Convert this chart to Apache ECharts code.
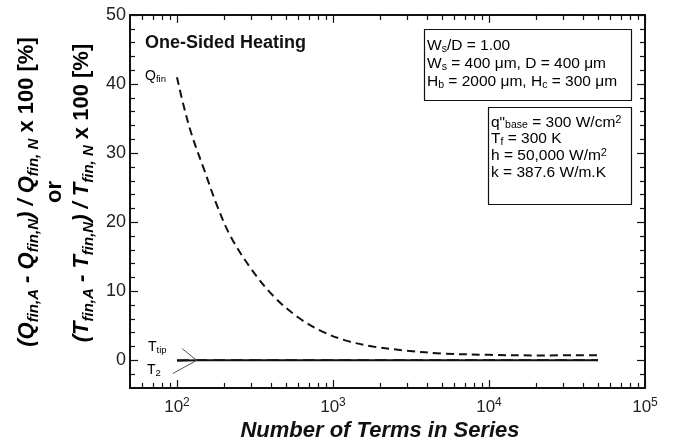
<!DOCTYPE html>
<html>
<head>
<meta charset="utf-8">
<script src="https://cdn.jsdelivr.net/npm/echarts@6/dist/echarts.min.js"></script>
<style>
html,body{margin:0;padding:0;background:#fff;}
#chart{width:676px;height:448px;}
</style>
</head>
<body>
<div id="chart"></div>
<script>
// ---- data ----
const N_Q   = [100, 110, 125, 150, 180, 220, 300, 420, 600, 850, 1200, 1800, 3000, 5000, 10000, 20000, 50000];
const Q_FIN = [41, 37, 32.5, 27.5, 22.5, 18, 13.2, 9.2, 6.2, 4.2, 2.9, 2.0, 1.4, 1.0, 0.8, 0.72, 0.75];
const N_T   = [100, 134, 300, 1000, 3000, 10000, 50000];
const T_TIP = [0.05, 0.05, 0.05, 0.05, 0.05, 0.05, 0.05];
const T_2   = [-0.05, 0, 0, 0, 0, 0, 0];
const X_TICKS = [100, 1000, 10000, 100000];
const X_EXP   = ['2', '3', '4', '5'];
const X_MINOR = [60,70,80,90,200,300,400,500,600,700,800,900,2000,3000,4000,5000,6000,7000,8000,9000,20000,30000,40000,50000,60000,70000,80000,90000];
const Y_TICKS = [0, 10, 20, 30, 40, 50];
const Y_MINOR = [-2, 2, 4, 6, 8, 12, 14, 16, 18, 22, 24, 26, 28, 32, 34, 36, 38, 42, 44, 46, 48];

const chart = echarts.init(document.getElementById('chart'), null, {renderer: 'canvas'});
const pairs = (xs, ys) => xs.map((x, i) => [x, ys[i]]);
const FONT = 'Liberation Sans, Arial, Helvetica, sans-serif';
const black = '#111';

function xAxisDef(pos, major, withLabel, showLine) {
  return {
    type: 'log', logBase: 10, min: 50, max: 100000, position: pos,
    axisLine: {show: showLine, onZero: false, lineStyle: {color: black, width: 2}},
    axisTick: {show: true, inside: true, length: major ? 8 : 5, lineStyle: {color: black, width: 1.2},
      customValues: major ? X_TICKS : X_MINOR},
    axisLabel: withLabel ? {
      show: true, customValues: X_TICKS, margin: 9, color: '#222', fontFamily: FONT, fontSize: 17,
      formatter: (v) => '10{sup|' + X_EXP[X_TICKS.indexOf(v)] + '}',
      rich: {sup: {fontSize: 12, verticalAlign: 'top', color: '#222', fontFamily: FONT, padding: [0, 0, 8, 0]}}
    } : {show: false},
    splitLine: {show: false}, minorTick: {show: false}
  };
}
function yAxisDef(pos, major, withLabel, showLine) {
  return {
    type: 'value', min: -4, max: 50, position: pos,
    axisLine: {show: showLine, onZero: false, lineStyle: {color: black, width: 2}},
    axisTick: {show: true, inside: true, length: major ? 8 : 5, lineStyle: {color: black, width: 1.2},
      customValues: major ? Y_TICKS : Y_MINOR},
    axisLabel: withLabel ? {show: true, customValues: Y_TICKS, margin: 4, color: '#222', fontFamily: FONT, fontSize: 18} : {show: false},
    splitLine: {show: false}
  };
}

const titleRich = {
  n: {fontFamily: FONT, fontSize: 22, fontWeight: 'bold', fontStyle: 'italic', color: black, verticalAlign: 'middle', lineHeight: 28},
  u: {fontFamily: FONT, fontSize: 22, fontWeight: 'bold', color: black, verticalAlign: 'middle', lineHeight: 28},
  s: {fontFamily: FONT, fontSize: 15, fontWeight: 'bold', fontStyle: 'italic', color: black, verticalAlign: 'bottom', lineHeight: 28}
};
function boxRich(lh) {
  return {
    n: {fontFamily: FONT, fontSize: 15.5, color: black, verticalAlign: 'middle', lineHeight: lh},
    s: {fontFamily: FONT, fontSize: 10.5, color: black, verticalAlign: 'bottom', lineHeight: lh},
    p: {fontFamily: FONT, fontSize: 11, color: black, verticalAlign: 'top', lineHeight: lh}
  };
}
const lblRich = {
  n: {fontFamily: FONT, fontSize: 14, color: '#333', verticalAlign: 'middle', lineHeight: 17},
  s: {fontFamily: FONT, fontSize: 9.5, color: '#333', verticalAlign: 'bottom', lineHeight: 17}
};

const option = {
  animation: false,
  backgroundColor: '#fff',
  grid: {left: 130, right: 31, top: 15, bottom: 60, containLabel: false},
  xAxis: [
    xAxisDef('bottom', true, true, true),
    xAxisDef('bottom', false, false, false),
    xAxisDef('top', true, false, true),
    xAxisDef('top', false, false, false)
  ],
  yAxis: [
    yAxisDef('left', true, true, true),
    yAxisDef('left', false, false, false),
    yAxisDef('right', true, false, true),
    yAxisDef('right', false, false, false)
  ],
  series: [
    {
      type: 'line', name: 'Qfin', xAxisIndex: 0, yAxisIndex: 0,
      data: pairs(N_Q, Q_FIN), showSymbol: false, smooth: 0.35, silent: true,
      lineStyle: {color: black, width: 2, type: [8, 5]}
    },
    {
      type: 'line', name: 'T2', xAxisIndex: 0, yAxisIndex: 0,
      data: pairs(N_T, T_2), showSymbol: false, silent: true,
      lineStyle: {color: black, width: 2},
      markLine: {
        symbol: 'none', silent: true, animation: false,
        label: {show: false},
        lineStyle: {color: '#555', width: 1, type: 'solid'},
        data: [
          [{coord: [134, 0]}, {coord: [108, 1.7]}],
          [{coord: [134, 0]}, {coord: [94, -1.9]}]
        ]
      }
    },
    {
      type: 'line', name: 'Ttip', xAxisIndex: 0, yAxisIndex: 0,
      data: pairs(N_T, T_TIP), showSymbol: false, silent: true,
      lineStyle: {color: black, width: 1.5, type: [12, 6]}
    }
  ],
  graphic: [
    // y-axis title (three rotated lines)
    {type: 'text', x: 27, y: 192, rotation: Math.PI / 2, silent: true,
      style: {text: '{n|(Q}{s|fin,A}{n| - Q}{s|fin,N}{n|) / Q}{s|fin, N}{u| x 100 [%]}', rich: titleRich, align: 'center', verticalAlign: 'middle'}},
    {type: 'text', x: 55, y: 192, rotation: Math.PI / 2, silent: true,
      style: {text: '{u|or}', rich: titleRich, align: 'center', verticalAlign: 'middle'}},
    {type: 'text', x: 82, y: 193, rotation: Math.PI / 2, silent: true,
      style: {text: '{n|(T}{s|fin,A}{n| - T}{s|fin,N}{n|) / T}{s|fin, N}{u| x 100 [%]}', rich: titleRich, align: 'center', verticalAlign: 'middle'}},
    // x-axis title
    {type: 'text', x: 380, y: 431, silent: true,
      style: {text: 'Number of Terms in Series', fontFamily: FONT, fontSize: 22, fontWeight: 'bold', fontStyle: 'italic', fill: black, align: 'center', verticalAlign: 'middle'}},
    // panel title
    {type: 'text', x: 145, y: 43, silent: true,
      style: {text: 'One-Sided Heating', fontFamily: FONT, fontSize: 18, fontWeight: 'bold', fill: black, align: 'left', verticalAlign: 'middle'}},
    // boxes
    {type: 'rect', shape: {x: 424.5, y: 29.5, width: 207, height: 71}, silent: true,
      style: {fill: '#fff', stroke: black, lineWidth: 1.2}},
    {type: 'text', x: 427, y: 37, silent: true,
      style: {text: '{n|W}{s|s}{n|/D = 1.00}\n{n|W}{s|s}{n| = 400 μm, D = 400 μm}\n{n|H}{s|b}{n| = 2000 μm, H}{s|c}{n| = 300 μm}', rich: boxRich(18), align: 'left', verticalAlign: 'top'}},
    {type: 'rect', shape: {x: 488.5, y: 107.5, width: 143, height: 97}, silent: true,
      style: {fill: '#fff', stroke: black, lineWidth: 1.2}},
    {type: 'text', x: 491, y: 114, silent: true,
      style: {text: '{n|q"}{s|base}{n| = 300 W/cm}{p|2}\n{n|T}{s|f}{n| = 300 K}\n{n|h = 50,000 W/m}{p|2}\n{n|k = 387.6 W/m.K}', rich: boxRich(16.7), align: 'left', verticalAlign: 'top'}},
    // curve labels
    {type: 'text', x: 145, y: 76, silent: true,
      style: {text: '{n|Q}{s|fin}', rich: lblRich, align: 'left', verticalAlign: 'middle'}},
    {type: 'text', x: 148, y: 347, silent: true,
      style: {text: '{n|T}{s|tip}', rich: lblRich, align: 'left', verticalAlign: 'middle'}},
    {type: 'text', x: 147, y: 370, silent: true,
      style: {text: '{n|T}{s|2}', rich: lblRich, align: 'left', verticalAlign: 'middle'}}
  ]
};
chart.setOption(option);
</script>
</body>
</html>
